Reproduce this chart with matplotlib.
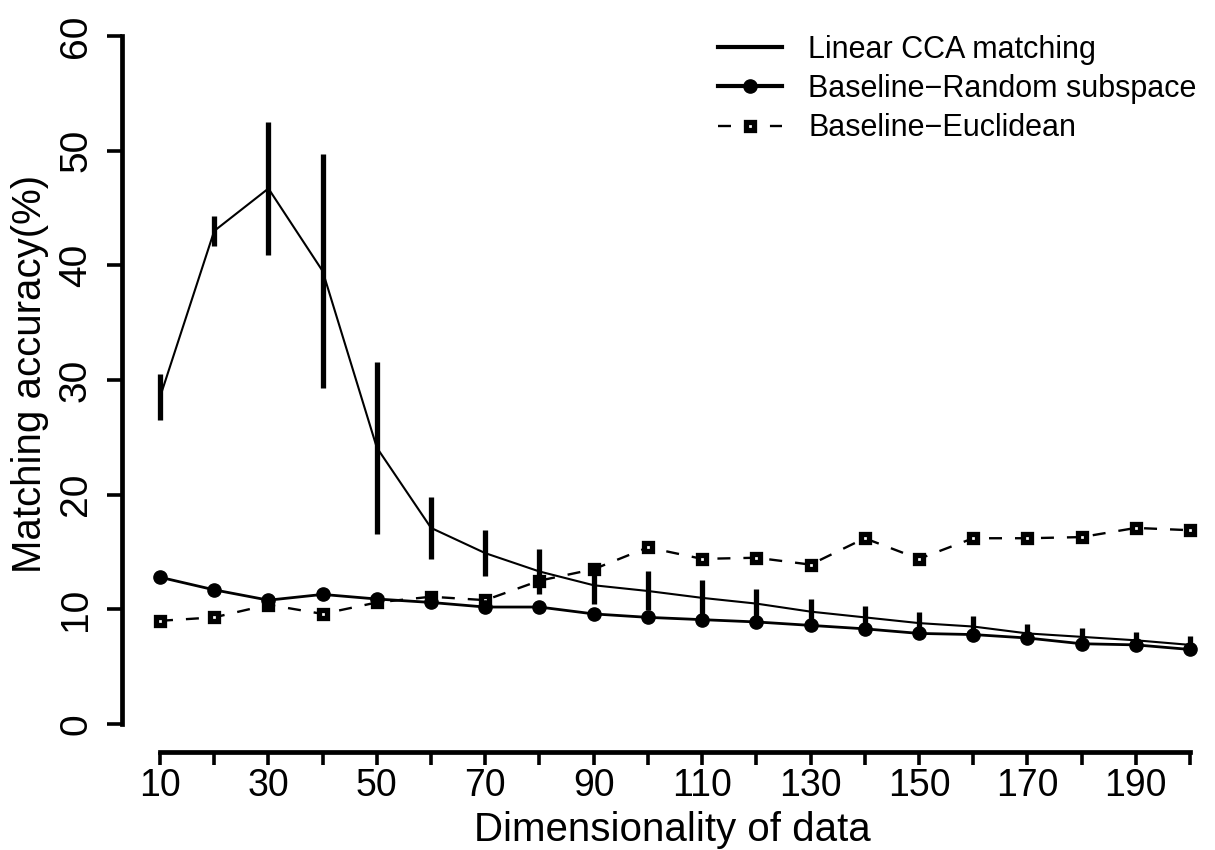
import numpy as np
import matplotlib.pyplot as plt

plt.rcParams['font.family'] = ['Liberation Sans', 'DejaVu Sans']

dims = [10, 20, 30, 40, 50, 60, 70, 80, 90, 100, 110, 120, 130, 140, 150, 160, 170, 180, 190, 200]
cca_mean = [28.5, 43.0, 46.7, 39.5, 24.1, 17.1, 14.9, 13.3, 12.1, 11.6, 11.0, 10.5, 9.8, 9.3, 8.8, 8.5, 7.9, 7.6, 7.3, 6.9]
cca_err = [2.0, 1.3, 5.8, 10.2, 7.5, 2.7, 2.0, 2.0, 1.6, 1.7, 1.6, 1.3, 1.1, 1.0, 1.0, 0.9, 0.8, 0.8, 0.7, 0.8]
rand_sub = [12.8, 11.7, 10.8, 11.3, 10.9, 10.6, 10.2, 10.2, 9.6, 9.3, 9.1, 8.9, 8.6, 8.3, 7.9, 7.8, 7.5, 7.0, 6.9, 6.5]
euclid = [9.0, 9.3, 10.4, 9.6, 10.6, 11.1, 10.8, 12.5, 13.5, 15.4, 14.4, 14.5, 13.9, 16.2, 14.4, 16.2, 16.2, 16.3, 17.1, 16.9]
yticks = [0, 10, 20, 30, 40, 50, 60]

W, H = 1215, 850
fig = plt.figure(figsize=(W / 100, H / 100), dpi=100)

# axes box in pixels; data mapping
L, R, T, B = 140, 1205, 30, 740
ax = fig.add_axes([L / W, 1 - B / H, (R - L) / W, (B - T) / H])
px_x = (1190 - 160) / 190.0
px_y = (724 - 36) / 60.0
ax.set_xlim(10 + (L - 160) / px_x, 10 + (R - 160) / px_x)
ax.set_ylim((724 - B) / px_y, (724 - T) / px_y)

ax.plot(dims, euclid, color='black', linestyle=(0, (5.5, 5.5)), linewidth=1.7,
        marker='s', markersize=6.3, markerfacecolor='white', markeredgewidth=3.8,
        label='Baseline\u2212Euclidean', zorder=3)
ax.plot(dims, rand_sub, color='black', linewidth=2.0, marker='o', markersize=9.5,
        label='Baseline\u2212Random subspace', zorder=3)
ax.plot(dims, cca_mean, color='black', linewidth=1.5, label='Linear CCA matching', zorder=4)
ax.errorbar(dims, cca_mean, yerr=cca_err, fmt='none', ecolor='black', elinewidth=3.8,
            capsize=0, zorder=4)

for s in ['top', 'right']:
    ax.spines[s].set_visible(False)
ax.spines['left'].set_position(('outward', 13))
ax.spines['bottom'].set_position(('outward', 8.6))
ax.spines['left'].set_bounds(0, 60)
ax.spines['bottom'].set_bounds(10, 200)
ax.spines['left'].set_linewidth(3.4)
ax.spines['bottom'].set_linewidth(3.4)

ax.set_xticks(range(10, 201, 10))
ax.set_xticklabels([str(d) if d % 20 == 10 else '' for d in dims], fontsize=27)
ax.set_yticks([])
ax.tick_params(axis='x', length=9.5, width=2.6, pad=2)

# y ticks and rotated labels drawn by hand, R style
ytr = ax.get_yaxis_transform()
for v in yticks:
    ax.plot([(107 - L) / (R - L), (122 - L) / (R - L)], [v, v], transform=ytr,
            color='black', lw=2.6, clip_on=False, solid_capstyle='butt')
    ax.text((94 - L) / (R - L), v, str(v), transform=ytr, rotation=90, fontsize=28,
            ha='right', va='center')

ax.set_xlabel('Dimensionality of data', fontsize=29, labelpad=5)
ax.text((30 - L) / (R - L), 30.5, 'Matching accuracy(%)', transform=ytr, rotation=90,
        fontsize=29, ha='center', va='center')

h, l = ax.get_legend_handles_labels()
order = [2, 1, 0]
leg = ax.legend([h[i] for i in order], [l[i] for i in order], loc='upper left',
                bbox_to_anchor=(718 / W, 1 - 35 / H), bbox_transform=fig.transFigure,
                frameon=False, fontsize=22, borderpad=0, borderaxespad=0,
                handlelength=2.1, handletextpad=0.85, labelspacing=0.3, markerscale=1.0)
leg.get_lines()[0].set_linewidth(3)
leg.get_lines()[1].set_linewidth(3)

fig.savefig('out.png', dpi=100)
